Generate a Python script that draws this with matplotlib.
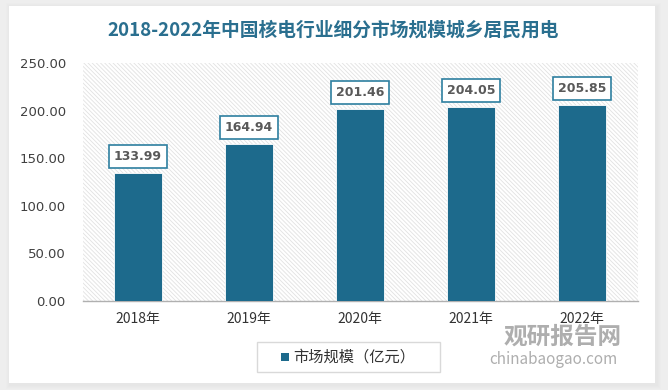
import matplotlib
matplotlib.use("Agg")
from matplotlib import pyplot as plt
from matplotlib.patches import Rectangle
import numpy as np

plt.rcParams['font.family'] = ['Noto Sans CJK SC', 'DejaVu Sans']
plt.rcParams['hatch.color'] = '#e2e2e2'
plt.rcParams['hatch.linewidth'] = 0.6

# data
years = ['2018年', '2019年', '2020年', '2021年', '2022年']
values = [133.99, 164.94, 201.46, 204.05, 205.85]
yticks = [0, 50, 100, 150, 200, 250]

title = '2018-2022年中国核电行业细分市场规模城乡居民用电'
legend_label = '市场规模（亿元）'

bar_color = '#1d6a8c'
W, H = 668, 390

fig = plt.figure(figsize=(W / 100, H / 100), dpi=100)
fig.patch.set_facecolor('#eeeeee')

# white card with a soft shadow
bg = fig.add_axes([0, 0, 1, 1])
bg.set_xlim(0, W)
bg.set_ylim(H, 0)
bg.axis('off')
for k in range(4):
    bg.add_patch(Rectangle((9 - k, 6 - k), 646 + 2 * k + 3, 377 + 2 * k + 3,
                           facecolor='#d0d0d0', edgecolor='none', alpha=0.05))
bg.add_patch(Rectangle((9, 6), 646, 377, facecolor='white', edgecolor='none'))

bg.text(333, 30, title, ha='center', va='center', fontsize=13.5,
        fontweight='bold', color='#2a6f8f')

# plot area
ax = fig.add_axes([82.5 / W, (H - 301) / H, 555 / W, 238 / H])
ax.set_facecolor('white')
ax.add_patch(Rectangle((0, 0), 1, 1, transform=ax.transAxes, facecolor='white',
                       edgecolor='#e2e2e2', hatch='\\' * 8, linewidth=0, zorder=0))

x = np.arange(len(years))
bars = ax.bar(x, values, width=0.43, color=bar_color, zorder=3,
              edgecolor='white', linewidth=0.6)
ax.set_xlim(-0.5, len(years) - 0.5)
ax.set_ylim(0, 250)
ax.set_yticks(yticks)
ax.set_yticklabels(['%.2f' % v for v in yticks], fontsize=9.5, color='#404040',
                   family=['DejaVu Sans'])
ax.set_xticks(x)
ax.set_xticklabels(years, fontsize=10, color='#333333')
ax.tick_params(length=0)
ax.tick_params(axis='y', pad=12)
ax.tick_params(axis='x', pad=8)
for s in ['top', 'right', 'left']:
    ax.spines[s].set_visible(False)
ax.spines['bottom'].set_color('#b0b0b0')
ax.spines['bottom'].set_linewidth(1)

for xi, v in zip(x, values):
    ax.annotate('%.2f' % v, (xi, v), xytext=(0, 12), textcoords='offset points',
                ha='center', va='center', fontsize=9, fontweight='bold',
                color='#595959', family=['DejaVu Sans'], zorder=5,
                bbox=dict(boxstyle='square,pad=0.4', facecolor='white',
                          edgecolor='#2e7fa0', linewidth=1.2))

# legend box
bg.add_patch(Rectangle((257, 342), 183, 30, facecolor='white',
                       edgecolor='#d9d9d9', linewidth=1))
bg.add_patch(Rectangle((281, 353), 8, 8, facecolor=bar_color, edgecolor='none'))
bg.text(293, 357, legend_label, ha='left', va='center', fontsize=11,
        color='#333333')

# watermark
bg.text(563, 337, '观研报告网', ha='center', va='center', fontsize=17,
        fontweight='bold', color='#9a9a9a', alpha=0.8)
bg.text(553, 359, 'chinabaogao.com', ha='center', va='center', fontsize=11,
        color='#9a9a9a', alpha=0.8)

fig.savefig('out.png', dpi=100, facecolor=fig.get_facecolor())
